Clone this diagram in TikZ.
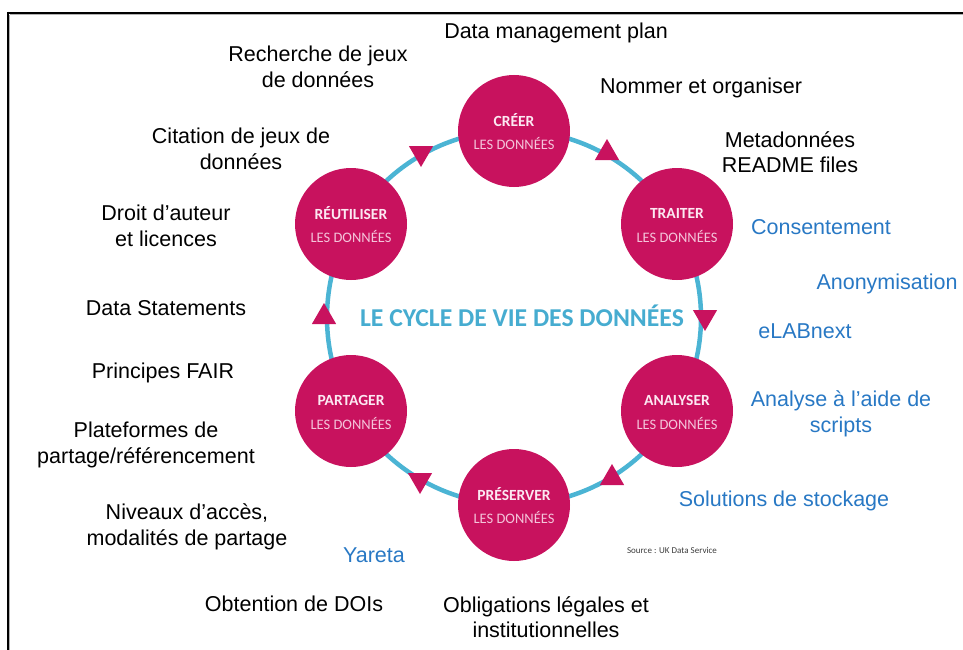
\documentclass[tikz,border=0pt]{standalone}
\usepackage{fontspec}
\setmainfont{Liberation Sans}
\newfontfamily\cyclefont{Carlito}
\usetikzlibrary{shapes.geometric}
\definecolor{magc}{RGB}{200,18,94}
\definecolor{ringc}{RGB}{75,180,212}
\definecolor{titlec}{RGB}{70,172,208}
\definecolor{bluetxt}{RGB}{40,120,196}
\definecolor{pinkw}{RGB}{252,232,242}
\definecolor{pinkl}{RGB}{244,196,218}
\definecolor{srcgrey}{RGB}{60,60,60}
\tikzset{
  stage/.style={circle, fill=magc, minimum size=112pt, inner sep=0pt},
  stagetitle/.style={text=pinkw, font=\cyclefont\bfseries\fontsize{15.5}{17}\selectfont, inner sep=0pt},
  stagesub/.style={text=pinkl, font=\cyclefont\fontsize{14.5}{16}\selectfont, inner sep=0pt},
  tri/.style={regular polygon, regular polygon sides=3, fill=magc, minimum size=28pt, inner sep=0pt},
  lbl/.style={font=\fontsize{21.5}{25.5}\selectfont, align=center, inner sep=0pt, text=black},
  blbl/.style={lbl, text=bluetxt},
}
\begin{document}
\begin{tikzpicture}[x=1pt, y=-1pt]
\useasboundingbox (0,0) rectangle (963,650);
% frame (cropped)
\draw[gray!60, line width=1pt] (9.8,14.8) -- (963,14.8);
\draw[gray!60, line width=1pt] (9.8,14.8) -- (9.8,650);
\draw[black, line width=2.6pt] (7.3,13) -- (963,13);
\draw[black, line width=2.6pt] (8,11.7) -- (8,650);

% ring
\coordinate (ctr) at (514,317.5);
\draw[ringc, line width=4.5pt] (ctr) circle[radius=187];

% arrow heads
\node[tri] (t1) at (607,153) {};
\node[tri, rotate=180] (t2) at (705,317) {};
\node[tri] (t3) at (612,478) {};
\node[tri, rotate=180] (t4) at (420,480) {};
\node[tri] (t5) at (324,317) {};
\node[tri, rotate=180] (t6) at (421,153) {};

% stages
\node[stage] (creer) at (514,131) {};
\node[stage] (traiter) at (677,224) {};
\node[stage] (analyser) at (677,411) {};
\node[stage] (preserver) at (514,505) {};
\node[stage] (partager) at (351,411) {};
\node[stage] (reutiliser) at (351,224) {};

\foreach \n/\t in {creer/CRÉER, traiter/TRAITER, analyser/ANALYSER, preserver/PRÉSERVER, partager/PARTAGER, reutiliser/RÉUTILISER}{
  \node[stagetitle] (\n-t) at ([yshift=11pt]\n.center) {\t};
  \node[stagesub] (\n-s) at ([yshift=-12pt]\n.center) {LES DONNÉES};
}

% title
\node[text=titlec, font=\cyclefont\bfseries\fontsize{25.7}{28}\selectfont, inner sep=0pt] (title) at (522,316) {LE CYCLE DE VIE DES DONNÉES};

% black labels
\node[lbl] (dmp) at (556,33) {Data management plan};
\node[lbl] (rech) at (318,67) {Recherche de jeux\\de données};
\node[lbl] (nommer) at (701,88) {Nommer et organiser};
\node[lbl] (citation) at (241,149) {Citation de jeux de\\données};
\node[lbl] (meta) at (790,152) {Metadonnées\\README files};
\node[lbl] (droit) at (166,226) {Droit d’auteur\\et licences};
\node[lbl] (datast) at (166,308) {Data Statements};
\node[lbl] (fair) at (163,373) {Principes FAIR};
\node[lbl] (plat) at (146,445) {Plateformes de\\partage/référencement};
\node[lbl] (niveaux) at (187,527) {Niveaux d’accès,\\modalités de partage};
\node[lbl] (doi) at (294,604) {Obtention de DOIs};
\node[lbl] (oblig) at (546,617) {Obligations légales et\\institutionnelles};

% blue labels
\node[blbl] (consent) at (821,227) {Consentement};
\node[blbl] (anon) at (887,284) {Anonymisation};
\node[blbl] (elab) at (805,331) {eLABnext};
\node[blbl] (scripts) at (841,414) {Analyse à l’aide de\\scripts};
\node[blbl] (stock) at (784,501) {Solutions de stockage};
\node[blbl] (yareta) at (374,555) {Yareta};

% source
\node[text=srcgrey, font=\cyclefont\fontsize{9}{10}\selectfont, inner sep=0pt] (src) at (672,550) {Source : UK Data Service};
\end{tikzpicture}
\end{document}
